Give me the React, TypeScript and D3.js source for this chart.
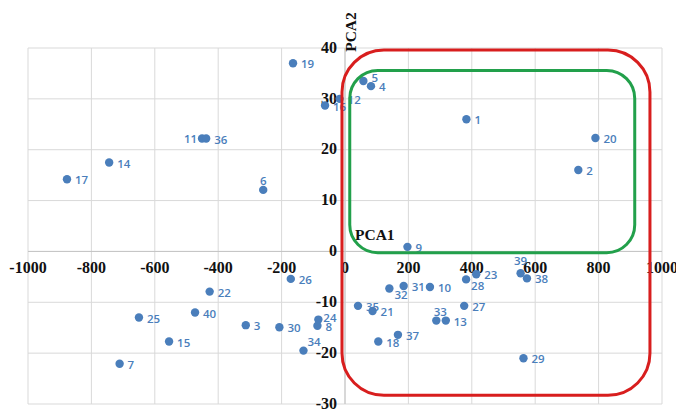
import React from "react";
import * as d3 from "d3";

const ids = ["1","2","3","4","5","6","7","8","9","10","11","12","13","14","15","16","17","18","19","20","21","22","23","24","25","26","27","28","29","30","31","32","33","34","35","36","37","38","39","40"];
const pca1 = [383, 736, -313, 82, 58, -258, -711, -87, 197, 268, -451, -17, 318, -744, -555, -63, -877, 105, -164, 790, 87, -427, 414, -84, -650, -171, 376, 382, 563, -207, 185, 140, 288, -131, 41, -438, 167, 574, 554, -473];
const pca2 = [26.0, 16.0, -14.5, 32.5, 33.5, 12.1, -22.1, -14.6, 0.9, -7.0, 22.2, 30.0, -13.6, 17.5, -17.7, 28.7, 14.2, -17.7, 37.0, 22.3, -11.7, -7.9, -4.5, -13.4, -13.0, -5.4, -10.7, -5.5, -21.0, -14.9, -6.8, -7.3, -13.6, -19.5, -10.7, 22.2, -16.4, -5.3, -4.3, -12.0];

const xTicks = [-1000, -800, -600, -400, -200, 0, 200, 400, 600, 800, 1000];
const yTicks = [-30, -20, -10, 0, 10, 20, 30, 40];

// highlighted regions, in data units
const regionNames = ["red", "green"];
const regionX = [[-9.5, 962], [15, 914]];
const regionY = [[39.6, -28.3], [35.6, -0.26]];

// label placement overrides (anchor, dx, dy)
const labelPlace: Record<string, [string, number, number]> = {
  "11": ["end", -5, 1],
  "6": ["middle", 0, -8],
  "39": ["middle", 0, -11],
  "28": ["start", 5, 8],
  "32": ["start", 5, 7],
  "33": ["middle", 4, -8],
  "34": ["start", 4, -8],
  "24": ["start", 5, -1],
  "5": ["start", 8, -2],
};

const W = 676, H = 410;
const regionStyle: Record<string, { color: string; r: number }> = {
  red: { color: "#d81e1e", r: 42 },
  green: { color: "#22a04b", r: 28 },
};

export default function App() {
  const x = d3.scaleLinear().domain([-1000, 1000]).range([28, 662]);
  const y = d3.scaleLinear().domain([-30, 40]).range([404, 48]);
  const blue = "#4a7ebb";
  const serif = "'Liberation Serif', 'Times New Roman', serif";
  return (
    <svg width={W} height={H} style={{ position: "absolute", left: 0, top: 0, background: "#fff" }}>
      <g>
        {xTicks.map((t) => (
          <line key={"gx" + t} x1={x(t)} x2={x(t)} y1={y(40)} y2={y(-30)} stroke="#d9d9d9" strokeWidth={1} />
        ))}
        {yTicks.map((t) => (
          <line key={"gy" + t} x1={x(-1000)} x2={x(1000)} y1={y(t)} y2={y(t)} stroke="#d9d9d9" strokeWidth={1} />
        ))}
        <line x1={x(0)} x2={x(0)} y1={y(40)} y2={y(-30)} stroke="#c4c4c4" strokeWidth={1} />
        <line x1={x(-1000)} x2={x(1000)} y1={y(0)} y2={y(0)} stroke="#c4c4c4" strokeWidth={1} />
      </g>
      <g fontFamily={serif} fontWeight="bold" fontSize={16} fill="#111">
        {xTicks.map((t) => (
          <text key={"tx" + t} x={x(t)} y={y(0) + 18} textAnchor="middle" dominantBaseline="middle">
            {t}
          </text>
        ))}
        {yTicks.map((t) => (
          <text key={"ty" + t} x={x(0) - 8} y={y(t) + 1} textAnchor="end" dominantBaseline="middle">
            {t}
          </text>
        ))}
        <text transform={`translate(${x(0) + 11},32) rotate(-90)`} textAnchor="middle" fontSize={15.5}>PCA2</text>
        <text x={x(0) + 10} y={y(0) - 15} textAnchor="start" dominantBaseline="middle" fontSize={15.5}>PCA1</text>
      </g>
      <g>
        {ids.map((id, i) => (
          <circle key={"p" + id} cx={x(pca1[i])} cy={y(pca2[i])} r={4.2} fill={blue} />
        ))}
      </g>
      <g fontFamily="'Open Sans', sans-serif" fontWeight={600} fontSize={11.5} fill={blue}>
        {ids.map((id, i) => {
          const p = labelPlace[id] || ["start", 8, 2];
          return (
            <text key={"l" + id} x={x(pca1[i]) + p[1]} y={y(pca2[i]) + p[2]} textAnchor={p[0]} dominantBaseline="middle">
              {id}
            </text>
          );
        })}
      </g>
      <g fill="none">
        {regionNames.map((n, i) => {
          const x0 = x(regionX[i][0]), x1 = x(regionX[i][1]);
          const y0 = y(regionY[i][0]), y1 = y(regionY[i][1]);
          const s = regionStyle[n];
          return (
            <rect key={n} x={x0} y={y0} width={x1 - x0} height={y1 - y0} rx={s.r} ry={s.r} stroke={s.color} strokeWidth={3} />
          );
        })}
      </g>
    </svg>
  );
}
